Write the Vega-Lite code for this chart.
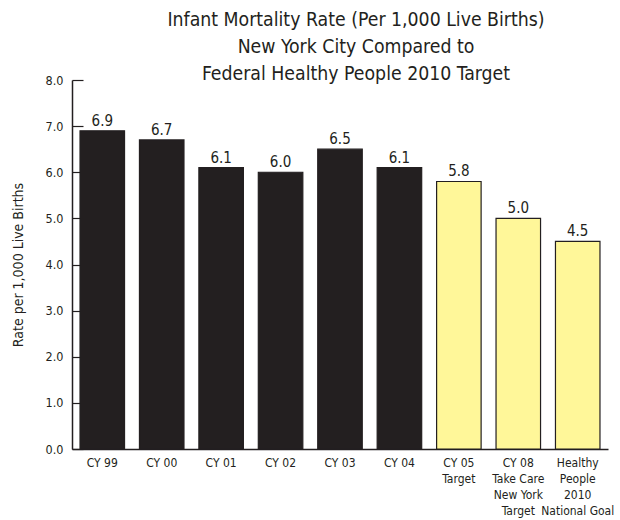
{
  "$schema": "https://vega.github.io/schema/vega-lite/v6.json",
  "width": 536,
  "height": 369,
  "autosize": "none",
  "padding": {"left": 72, "top": 80, "right": 12, "bottom": 71},
  "background": "white",
  "config": {
    "view": {"stroke": null},
    "font": "DejaVu Sans Condensed, Roboto, sans-serif",
    "axis": {"labelFont": "DejaVu Sans Condensed, Roboto, sans-serif", "titleFont": "DejaVu Sans Condensed, Roboto, sans-serif", "labelColor": "#231f20", "titleColor": "#231f20", "domainColor": "#231f20", "tickColor": "#231f20"}
  },
  "title": {
    "text": ["Infant Mortality Rate (Per 1,000 Live Births)", "New York City Compared to", "Federal Healthy People 2010 Target"],
    "font": "DejaVu Sans Condensed, Roboto, sans-serif",
    "fontSize": 19.3,
    "fontWeight": "normal",
    "color": "#231f20",
    "anchor": "middle",
    "dx": 16,
    "lineHeight": 27,
    "offset": -10
  },
  "data": {
    "values": [
      {"label": "CY 99", "rate": 6.9, "kind": "actual"},
      {"label": "CY 00", "rate": 6.7, "kind": "actual"},
      {"label": "CY 01", "rate": 6.1, "kind": "actual"},
      {"label": "CY 02", "rate": 6.0, "kind": "actual"},
      {"label": "CY 03", "rate": 6.5, "kind": "actual"},
      {"label": "CY 04", "rate": 6.1, "kind": "actual"},
      {"label": "CY 05|Target", "rate": 5.8, "kind": "target"},
      {"label": "CY 08|Take Care|New York|Target", "rate": 5.0, "kind": "target"},
      {"label": "Healthy|People|2010|National Goal", "rate": 4.5, "kind": "target"}
    ]
  },
  "encoding": {
    "x": {
      "field": "label",
      "type": "nominal",
      "sort": null,
      "scale": {"paddingInner": 0.251, "paddingOuter": 0.135},
      "axis": {
        "title": null,
        "labelAngle": 0,
        "ticks": false,
        "labelPadding": 8,
        "labelFontSize": 12,
        "labelLineHeight": 16.3,
        "labelExpr": "split(datum.label, '|')",
        "domainWidth": 1.5
      }
    },
    "y": {
      "field": "rate",
      "type": "quantitative",
      "scale": {"domain": [0, 8]},
      "axis": {
        "title": "Rate per 1,000 Live Births",
        "titleFontSize": 14,
        "titleFontWeight": "normal",
        "titlePadding": 20,
        "format": ".1f",
        "values": [0, 1, 2, 3, 4, 5, 6, 7, 8],
        "grid": false,
        "tickSize": -11,
        "tickWidth": 1.2,
        "labelFontSize": 12.5,
        "labelPadding": 20,
        "domainWidth": 1.5
      }
    }
  },
  "layer": [
    {
      "mark": {"type": "bar", "stroke": "#231f20", "strokeWidth": 1.2},
      "encoding": {
        "color": {
          "field": "kind",
          "type": "nominal",
          "scale": {"domain": ["actual", "target"], "range": ["#231f20", "#fff799"]},
          "legend": null
        }
      }
    },
    {
      "mark": {"type": "text", "dy": -10, "fontSize": 15, "color": "#231f20", "font": "DejaVu Sans Condensed, Roboto, sans-serif"},
      "encoding": {
        "text": {"field": "rate", "type": "quantitative", "format": ".1f"}
      }
    }
  ]
}
